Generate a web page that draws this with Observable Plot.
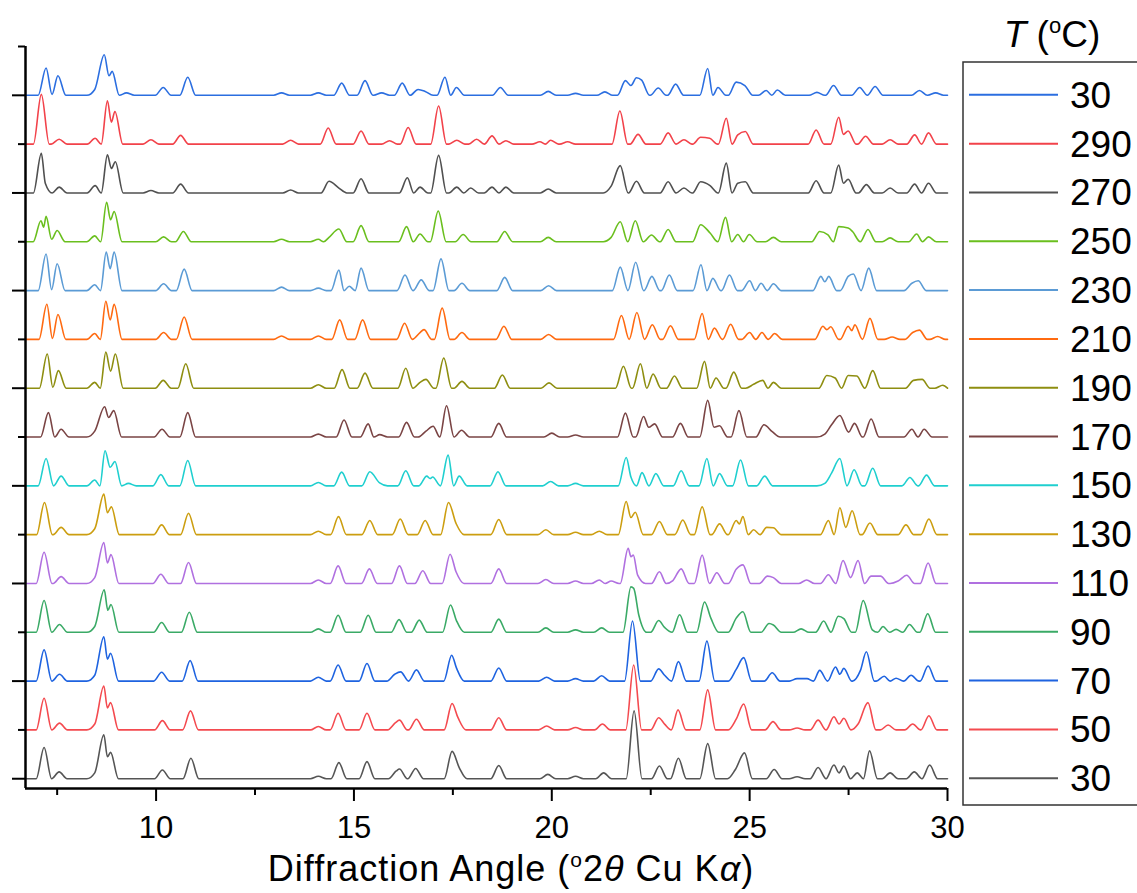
<!DOCTYPE html>
<html><head><meta charset="utf-8">
<script src="https://cdn.jsdelivr.net/npm/d3@7"></script>
<script src="https://cdn.jsdelivr.net/npm/@observablehq/plot@0.6"></script>
<style>
body{margin:0;background:#fff;font-family:'Liberation Sans',Arial,sans-serif;}
#wrap{position:relative;width:1137px;height:893px;overflow:hidden;background:#fff;}
#chart{position:absolute;left:0;top:0;}
#legend{position:absolute;left:0;top:0;pointer-events:none;}
#xlab{position:absolute;left:11px;top:851px;width:1000px;text-align:center;font-size:36px;line-height:36px;letter-spacing:1px;color:#000;white-space:nowrap;}
#xlab .sup{font-size:21px;vertical-align:14px;line-height:0;}
</style></head>
<body><div id="wrap"><div id="chart"></div><svg id="legend" width="1137" height="893"></svg>
<div id="xlab">Diffraction Angle (<span class="sup">o</span>2<i>θ</i> Cu K<i>α</i>)</div></div>
<script>
// Series (bottom to top), legend labels and colours
const seriesIds = ["30","50","70","90","110","130","150","170","190","210","230","250","270","290","30 (cooled)"];
const seriesLabels = ["30","50","70","90","110","130","150","170","190","210","230","250","270","290","30"];
const seriesColors = ["#555555","#f44a4f","#1e63e0","#3aaa66","#b070e0","#cc9e10","#1fcfcf","#7a4444","#8e8e10","#ff6a10","#5b9bd5","#6abf1e","#505050","#f2424a","#2b6ee0"];

const majorAngles = [10,15,20,25,30];
const minorAngles = [7.5,12.5,17.5,22.5,27.5];
const offsetTicks = [0,1,2,3,4,5,6,7,8,9,10,11,12,13,14,15];

// Peak tops / valleys [angle (°2θ), intensity (trace-spacing units)]
const t30 = [[7.17,.64],[7.55,.14],[8.45,.12],[8.68,.9],[8.77,.45],[8.85,.54],[10.16,.18],[10.88,.42],[14.1,.05],[14.62,.33],[15.33,.35],[16.07,.16],[16.15,.2],[16.56,.21],[17.48,.56],[17.66,.23],[18.66,.27],[19.9,.09],[20.6,.05],[21.31,.12],[22.08,1.39],[22.72,.26],[23.2,.42],[23.94,.72],[24.64,.19],[24.87,.53],[25.62,.19],[26.2,.04],[26.73,.23],[27.13,.28],[27.26,.12],[27.38,.26],[27.72,.12],[28.03,.57],[28.55,.12],[29.16,.14],[29.55,.28]];
const t50 = [[7.17,.65],[7.56,.14],[8.45,.12],[8.68,.9],[8.77,.45],[8.85,.56],[10.16,.19],[10.87,.39],[14.1,.07],[14.6,.34],[15.33,.34],[16.05,.15],[16.15,.2],[16.58,.22],[17.48,.54],[17.63,.25],[18.66,.25],[19.87,.08],[20.6,.05],[21.28,.12],[22.07,1.33],[22.7,.25],[22.85,.12],[23.19,.41],[23.94,.82],[24.66,.22],[24.85,.53],[25.59,.17],[26.2,.04],[26.73,.2],[27.13,.27],[27.26,.12],[27.38,.24],[27.74,.12],[27.99,.56],[28.5,.1],[29.12,.12],[29.53,.29]];
const t70 = [[7.17,.64],[7.56,.14],[8.45,.12],[8.68,.91],[8.77,.45],[8.85,.57],[10.14,.18],[10.86,.42],[14.1,.08],[14.6,.33],[15.33,.36],[16.03,.14],[16.18,.19],[16.58,.23],[17.47,.53],[17.59,.27],[18.66,.27],[19.87,.08],[20.6,.05],[21.26,.11],[22.04,1.23],[22.7,.25],[22.85,.12],[23.2,.4],[23.92,.82],[24.66,.24],[24.85,.48],[25.57,.17],[26.2,.05],[26.45,.05],[26.77,.22],[27.17,.29],[27.28,.14],[27.38,.26],[27.8,.22],[27.95,.6],[28.4,.1],[28.7,.06],[29.08,.12],[29.51,.31]];
const t90 = [[7.17,.65],[7.56,.16],[8.45,.12],[8.69,.87],[8.78,.45],[8.86,.57],[10.14,.2],[10.84,.41],[14.1,.07],[14.6,.35],[15.36,.35],[16.14,.26],[16.65,.25],[17.44,.56],[17.59,.24],[18.66,.27],[19.85,.09],[20.6,.05],[21.26,.09],[22.0,.93],[22.07,.9],[22.2,.35],[22.7,.24],[22.85,.1],[23.23,.36],[23.86,.62],[24.02,.29],[24.66,.29],[24.83,.42],[25.49,.18],[25.6,.15],[26.3,.07],[26.87,.23],[27.24,.33],[27.38,.28],[27.87,.65],[28.1,.05],[28.37,.12],[28.7,.06],[29.04,.16],[29.5,.38]];
const t110 = [[7.17,.64],[7.6,.14],[8.45,.12],[8.68,.84],[8.77,.42],[8.86,.59],[10.12,.19],[10.82,.43],[14.1,.07],[14.6,.36],[15.39,.3],[16.15,.36],[16.74,.26],[17.43,.6],[17.58,.24],[18.66,.3],[19.85,.08],[20.6,.05],[21.2,.07],[21.5,.05],[21.93,.72],[22.0,.55],[22.06,.58],[22.17,.17],[22.72,.24],[23.06,.06],[23.27,.3],[23.8,.58],[24.17,.22],[24.66,.29],[24.83,.38],[25.45,.15],[25.6,.12],[26.44,.07],[26.99,.18],[27.36,.47],[27.55,.12],[27.74,.47],[28.07,.15],[28.31,.15],[28.75,.05],[28.97,.17],[29.51,.42]];
const t130 = [[7.18,.66],[7.6,.15],[8.45,.12],[8.68,.83],[8.77,.45],[8.87,.57],[10.14,.2],[10.82,.44],[14.1,.07],[14.61,.37],[15.4,.29],[16.17,.32],[16.8,.29],[17.39,.66],[17.58,.23],[18.66,.31],[19.85,.1],[20.6,.05],[21.2,.07],[21.88,.68],[22.0,.35],[22.11,.46],[22.72,.27],[23.31,.3],[23.8,.57],[24.24,.22],[24.66,.29],[24.74,.22],[24.83,.37],[25.1,.1],[25.43,.15],[25.6,.14],[26.99,.29],[27.28,.55],[27.43,.15],[27.59,.49],[28.04,.24],[28.95,.2],[29.53,.32]];
const t150 = [[7.22,.56],[7.6,.2],[8.45,.12],[8.71,.72],[8.84,.38],[8.96,.5],[9.3,.05],[10.12,.23],[10.8,.52],[14.1,.07],[14.69,.28],[15.4,.29],[15.65,.06],[16.31,.31],[16.84,.2],[16.92,.15],[16.99,.18],[17.38,.63],[17.66,.2],[18.64,.29],[19.97,.09],[20.6,.05],[21.88,.58],[22.0,.18],[22.28,.27],[22.63,.25],[23.27,.31],[23.92,.56],[24.24,.25],[24.77,.53],[25.38,.2],[26.9,.05],[27.07,.26],[27.28,.56],[27.64,.33],[28.11,.36],[29.05,.17],[29.47,.22]];
const t170 = [[7.28,.5],[7.6,.16],[8.45,.12],[8.7,.62],[8.8,.4],[8.93,.54],[10.15,.16],[10.8,.5],[14.1,.06],[14.75,.35],[15.36,.27],[15.65,.05],[16.33,.3],[16.82,.12],[17.0,.22],[17.34,.64],[17.72,.14],[18.66,.28],[20.0,.08],[20.6,.04],[21.86,.49],[22.32,.42],[22.45,.2],[22.6,.27],[23.25,.28],[23.94,.75],[24.1,.2],[24.24,.23],[24.73,.54],[25.36,.25],[25.57,.11],[26.9,.06],[27.07,.25],[27.28,.44],[27.5,.1],[27.65,.28],[28.07,.37],[29.1,.16],[29.41,.16]];
const t190 = [[7.25,.7],[7.39,.02],[7.53,.36],[8.45,.12],[8.73,.74],[8.85,.35],[8.97,.7],[10.18,.16],[10.75,.5],[14.1,.07],[14.7,.38],[15.28,.31],[16.31,.41],[16.67,.12],[16.82,.18],[17.27,.62],[17.73,.14],[18.75,.27],[19.93,.11],[21.81,.45],[22.24,.5],[22.56,.29],[23.1,.25],[23.86,.55],[24.15,.21],[24.6,.33],[25.1,.08],[25.33,.16],[25.6,.12],[26.95,.26],[27.16,.21],[27.49,.26],[27.71,.25],[28.11,.36],[29.14,.16],[29.36,.18],[29.88,.06]];
const t210 = [[7.24,.72],[7.38,.02],[7.52,.51],[8.45,.12],[8.73,.78],[8.84,.4],[8.94,.72],[10.19,.14],[10.71,.46],[13.17,.07],[14.1,.07],[14.64,.4],[15.22,.4],[16.28,.33],[16.67,.14],[16.77,.2],[17.23,.64],[17.73,.14],[18.79,.27],[19.92,.1],[21.76,.49],[22.15,.55],[22.54,.3],[23.0,.28],[23.8,.53],[24.11,.23],[24.52,.31],[25.0,.14],[25.31,.14],[25.63,.12],[26.85,.27],[26.95,.2],[27.05,.26],[27.49,.27],[27.58,.18],[27.66,.3],[28.04,.43],[28.6,.05],[29.12,.14],[29.29,.19],[29.75,.06]];
const t230 = [[7.22,.75],[7.36,.02],[7.5,.55],[8.45,.12],[8.74,.79],[8.84,.45],[8.94,.79],[10.19,.14],[10.71,.44],[13.17,.07],[14.1,.05],[14.62,.42],[14.88,.09],[15.18,.46],[16.29,.32],[16.7,.22],[17.2,.65],[17.73,.15],[18.81,.27],[19.92,.1],[21.73,.48],[22.12,.58],[22.53,.29],[22.97,.32],[23.77,.53],[24.07,.25],[24.49,.32],[25.0,.2],[25.29,.15],[25.6,.14],[26.8,.29],[26.9,.18],[27.0,.29],[27.49,.29],[27.62,.34],[28.01,.46],[29.1,.15],[29.26,.2]];
const t250 = [[7.09,.43],[7.16,.3],[7.22,.52],[7.36,.05],[7.5,.23],[8.45,.12],[8.75,.81],[8.85,.45],[8.94,.62],[10.19,.1],[10.69,.21],[13.17,.05],[14.1,.05],[14.37,.09],[14.62,.26],[15.18,.33],[16.33,.31],[16.67,.16],[17.13,.63],[17.76,.15],[18.81,.21],[19.91,.09],[21.5,.09],[21.73,.41],[22.11,.43],[22.52,.14],[22.94,.25],[23.76,.35],[24.0,.18],[24.39,.5],[24.7,.15],[24.99,.15],[25.6,.09],[26.77,.21],[26.98,.14],[27.25,.31],[27.49,.28],[27.6,.21],[27.99,.25],[28.55,.08],[29.22,.16],[29.52,.1]];
const t270 = [[7.1,.81],[7.2,.2],[7.55,.12],[8.46,.15],[8.77,.78],[8.87,.5],[8.97,.64],[9.87,.05],[10.62,.18],[13.4,.06],[14.37,.24],[14.62,.1],[15.18,.29],[16.35,.31],[16.67,.12],[17.14,.77],[17.6,.12],[17.95,.1],[18.49,.12],[18.84,.12],[19.91,.08],[21.5,.14],[21.73,.56],[22.14,.24],[22.94,.23],[23.34,.1],[23.76,.23],[24.0,.15],[24.41,.61],[24.7,.2],[24.89,.23],[26.68,.25],[27.25,.57],[27.37,.2],[27.49,.28],[27.95,.17],[28.55,.1],[29.17,.18],[29.52,.2]];
const t290 = [[7.1,1.02],[7.55,.1],[8.46,.12],[8.77,.89],[8.87,.45],[8.96,.67],[9.87,.09],[10.62,.18],[13.4,.08],[14.35,.33],[15.18,.27],[15.9,.07],[16.37,.34],[17.14,.78],[17.6,.08],[18.1,.1],[18.49,.17],[18.84,.07],[19.7,.05],[19.97,.08],[20.4,.05],[21.72,.68],[22.18,.2],[22.94,.23],[23.34,.09],[23.76,.14],[23.99,.12],[24.41,.53],[24.7,.19],[24.89,.26],[26.68,.29],[27.25,.55],[27.37,.2],[27.49,.27],[27.93,.16],[28.55,.09],[29.17,.19],[29.52,.23]];
const t30cooled = [[7.22,.56],[7.37,.02],[7.52,.4],[8.45,.12],[8.69,.83],[8.81,.4],[8.89,.49],[9.25,.05],[10.18,.16],[10.8,.37],[13.17,.05],[14.1,.05],[14.69,.25],[15.28,.3],[15.7,.05],[16.22,.25],[16.62,.12],[16.8,.08],[17.3,.37],[17.59,.16],[18.7,.16],[19.91,.08],[20.6,.04],[21.34,.07],[21.86,.3],[22.0,.2],[22.14,.36],[22.27,.31],[22.69,.15],[23.13,.23],[23.94,.55],[24.2,.16],[24.66,.27],[24.88,.2],[25.42,.1],[25.7,.11],[26.7,.06],[27.12,.2],[27.78,.16],[28.17,.18],[29.29,.1],[29.7,.05]];

const traces = [t30,t50,t70,t90,t110,t130,t150,t170,t190,t210,t230,t250,t270,t290,t30cooled];

// Build line vertices: listed tops/valleys plus baseline feet between separated peaks
const FOOT = 0.2, X0 = 6.7, X1 = 30;
function build(id, k, peaks){
  const pts = [[X0,0]];
  let prev = pts[0];
  for (const p of peaks.slice().sort((a,b)=>a[0]-b[0])){
    const gap = p[0]-prev[0];
    if (gap > 2*FOOT){
      if (prev[0] !== X0) pts.push([prev[0]+FOOT,0]);
      pts.push([p[0]-FOOT,0]);
    } else if (gap > 0.25){
      pts.push([(p[0]+prev[0])/2,0]);
    }
    pts.push(p); prev = p;
  }
  pts.push([Math.min(prev[0]+FOOT,X1),0]);
  if (prev[0]+FOOT < X1) pts.push([X1,0]);
  return pts.map(([x,h])=>({id, x, y:k+h}));
}
const rows = traces.flatMap((t,k)=>build(seriesIds[k],k,t));

const font = "'Liberation Sans', Arial, sans-serif";
const plot = Plot.plot({
  width:1137, height:845,
  marginLeft:25, marginRight:190, marginTop:46, marginBottom:57,
  x:{domain:[X0,X1]},
  y:{domain:[-0.2,15]},
  color:{domain:seriesIds, range:seriesColors},
  style:{fontFamily:font, background:"transparent", color:"#000"},
  marks:[
    Plot.line(rows,{x:"x",y:"y",z:"id",stroke:"id",strokeWidth:1.6,curve:"monotone-x"}),
    Plot.axisX({ticks:majorAngles, tickSize:13, tickPadding:14, fontSize:31, strokeWidth:2, label:null}),
    Plot.axisX({ticks:minorAngles, tickSize:7, tickFormat:()=>"", strokeWidth:2, label:null}),
    Plot.axisY({ticks:offsetTicks.filter(d=>d%2===0), tickSize:13, tickFormat:()=>"", strokeWidth:2, label:null}),
    Plot.axisY({ticks:offsetTicks.filter(d=>d%2===1), tickSize:7, tickFormat:()=>"", strokeWidth:2, label:null}),
    Plot.ruleX([X0],{strokeWidth:2.5}),
    Plot.ruleY([-0.2],{strokeWidth:2.5})
  ]
});
document.getElementById("chart").appendChild(plot);

// Legend (aligned with each trace baseline)
const ys = plot.scale("y");
const lg = d3.select("#legend");
lg.append("rect").attr("x",963).attr("y",62).attr("width",220).attr("height",743)
  .attr("fill","none").attr("stroke","#333").attr("stroke-width",1.5);
const title = lg.append("text").attr("x",1052).attr("y",47).attr("text-anchor","middle")
  .attr("font-family",font).attr("font-size",37).attr("fill","#000");
title.append("tspan").attr("font-style","italic").text("T");
title.append("tspan").text(" (");
title.append("tspan").attr("font-size",22).attr("dy",-14).text("o");
title.append("tspan").attr("dy",14).text("C)");
seriesIds.forEach((id,k)=>{
  const y = ys.apply(k);
  lg.append("line").attr("x1",969).attr("x2",1058).attr("y1",y).attr("y2",y)
    .attr("stroke",seriesColors[k]).attr("stroke-width",2);
  lg.append("text").attr("x",1070).attr("y",y+13).attr("font-family",font)
    .attr("font-size",37).attr("fill","#000").text(seriesLabels[k]);
});
</script>
</body></html>
